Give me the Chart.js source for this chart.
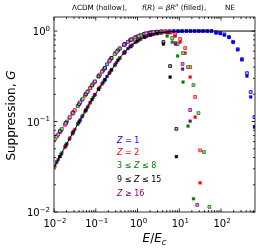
<!DOCTYPE html>
<html>
<head>
<meta charset="utf-8">
<script src="https://cdn.jsdelivr.net/npm/chart.js@4.4.1/dist/chart.umd.min.js"></script>
<style>
  html, body { margin: 0; padding: 0; background: #fff; }
  #c { display: block; }
</style>
</head>
<body>
<canvas id="c" width="260" height="249"></canvas>
<script>
// categories (legend order)
const categories = ['Z = 1', 'Z = 2', '3 ≤ Z ≤ 8', '9 ≤ Z ≤ 15', 'Z ≥ 16'];

// E/Ec sample points per category
const eZ1 = [0.0117, 0.0148, 0.0186, 0.0234, 0.0295, 0.0372, 0.0468, 0.0589, 0.0741, 0.0933,
  0.117, 0.148, 0.186, 0.234, 0.295, 0.372, 0.468, 0.589, 0.741, 0.933,
  1.17, 1.48, 1.86, 2.34, 2.95, 3.72, 4.68, 5.89, 7.41, 9.33,
  11.7, 14.8, 18.6, 23.4, 29.5, 37.2, 46.8, 58.9, 75.9, 95.5,
  120, 155, 195, 251, 316, 417, 513, 631];
const eZ2 = [0.0105, 0.0138, 0.0182, 0.0240, 0.0316, 0.0417, 0.0550, 0.0724, 0.0955, 0.126,
  0.166, 0.219, 0.288, 0.380, 0.501, 0.661, 0.871, 1.15, 1.51, 2.00,
  2.63, 3.47, 4.57, 6.03, 7.94, 10.5, 13.8, 18.2, 24.0, 31.6];
const eZ3 = [0.0115, 0.0155, 0.0204, 0.0275, 0.0372, 0.0490, 0.0661, 0.0871, 0.117, 0.158,
  0.209, 0.282, 0.372, 0.501, 0.676, 0.891, 1.20, 1.58, 2.14, 2.88,
  3.80, 5.13, 6.76, 9.12, 12.3, 16.2, 21.9, 28.8, 38.9, 52.5];
const eZ9 = [0.0138, 0.0195, 0.0282, 0.0398, 0.0575, 0.0813, 0.117, 0.166, 0.240, 0.339,
  0.490, 0.692, 1.00, 1.45, 2.04, 2.95, 4.17, 6.03, 8.51];
const eZ16 = [0.0126, 0.0191, 0.0282, 0.0427, 0.0631, 0.0955, 0.141, 0.214, 0.316, 0.479,
  0.708, 1.07, 1.62, 2.40, 3.63, 5.37, 8.13, 12.0, 18.2, 26.9];

// suppression G, LCDM (hollow) and f(R) (filled)
const gZ1Hollow = [0.069, 0.080, 0.094, 0.110, 0.128, 0.149, 0.174, 0.203, 0.236, 0.273,
  0.316, 0.365, 0.43, 0.50, 0.57, 0.64, 0.70, 0.76, 0.815, 0.86,
  0.90, 0.93, 0.955, 0.97, 0.982, 0.989, 0.994, 0.998, 1, 1,
  1, 1, 1, 1, 1, 1, 1, 1, 0.97, 0.95,
  0.92, 0.86, 0.76, 0.63, 0.49, 0.343, 0.212, 0.112];
const gZ1Filled = [0.036, 0.0435, 0.053, 0.064, 0.078, 0.094, 0.113, 0.135, 0.163, 0.195,
  0.228, 0.268, 0.315, 0.368, 0.43, 0.50, 0.57, 0.64, 0.70, 0.76,
  0.815, 0.86, 0.895, 0.923, 0.945, 0.96, 0.973, 0.982, 0.988, 0.993,
  0.997, 1, 1, 1, 1, 1, 1, 1, 0.95, 0.94,
  0.90, 0.85, 0.75, 0.62, 0.48, 0.318, 0.187, 0.087];
const gZ2Hollow = [0.064, 0.076, 0.092, 0.112, 0.134, 0.161, 0.193, 0.233, 0.277, 0.33,
  0.39, 0.48, 0.56, 0.645, 0.72, 0.79, 0.85, 0.895, 0.935, 0.96,
  0.978, 0.987, 0.99, 0.97, 0.92, 0.816, 0.649, 0.40, 0.187, 0.048];
const gZ2Filled = [0.032, 0.041, 0.052, 0.066, 0.082, 0.103, 0.128, 0.160, 0.198, 0.24,
  0.29, 0.352, 0.42, 0.505, 0.59, 0.67, 0.745, 0.81, 0.862, 0.905,
  0.935, 0.958, 0.97, 0.96, 0.88, 0.756, 0.571, 0.31, 0.112, 0.021];
const gZ3Hollow = [0.068, 0.083, 0.10, 0.122, 0.149, 0.179, 0.218, 0.262, 0.316, 0.38,
  0.46, 0.555, 0.64, 0.72, 0.795, 0.85, 0.90, 0.94, 0.965, 0.98,
  0.988, 0.97, 0.837, 0.718, 0.571, 0.40, 0.253, 0.124, 0.046, 0.0114];
const gZ3Filled = [0.035, 0.045, 0.057, 0.073, 0.094, 0.117, 0.148, 0.185, 0.228, 0.28,
  0.34, 0.415, 0.50, 0.59, 0.675, 0.755, 0.82, 0.87, 0.91, 0.94,
  0.958, 0.88, 0.756, 0.53, 0.273, 0.089, 0.014];
const gZ9Hollow = [0.078, 0.097, 0.125, 0.156, 0.20, 0.251, 0.316, 0.39, 0.505, 0.61,
  0.715, 0.80, 0.87, 0.928, 0.96, 0.975, 0.756, 0.41, 0.083];
const gZ9Filled = [0.041, 0.055, 0.075, 0.099, 0.133, 0.175, 0.228, 0.29, 0.375, 0.475,
  0.58, 0.675, 0.78, 0.855, 0.905, 0.94, 0.718, 0.31, 0.041];
const gZ16Hollow = [0.072, 0.095, 0.124, 0.163, 0.212, 0.277, 0.355, 0.47, 0.59, 0.71,
  0.805, 0.88, 0.942, 0.972, 0.988, 0.98, 0.737, 0.432, 0.134, 0.012];
const gZ16Filled = [0.038, 0.054, 0.075, 0.104, 0.143, 0.198, 0.26, 0.345, 0.45, 0.575,
  0.69, 0.795, 0.873, 0.92, 0.955, 0.96, 0.718, 0.38, 0.101];

// NE curve
const eNE = [0.01, 0.0158, 0.0251, 0.0398, 0.0631, 0.1, 0.158, 0.251, 0.398, 0.631,
  1.0, 1.58, 2.51, 3.98, 6.31, 10, 15.8, 25.1, 650];
const gNE = [0.031, 0.046, 0.068, 0.099, 0.143, 0.205, 0.28, 0.385, 0.52, 0.66,
  0.78, 0.87, 0.93, 0.965, 0.985, 0.994, 0.999, 1.0, 1.0];

// tick exponents
const xTickExps = [-2, -1, 0, 1, 2];
const yTickExps = [-2, -1, 0];

const colors = ['#0000ff', '#ff0000', '#008000', '#000000', '#800080'];
const tints = ['#b0b0ff', '#ffb0b0', '#a8d4a8', '#b0b0b0', '#d4a8d4'];
const FONT = '"DejaVu Sans", sans-serif';

const seriesE = [eZ1, eZ2, eZ3, eZ9, eZ16];
const seriesHollow = [gZ1Hollow, gZ2Hollow, gZ3Hollow, gZ9Hollow, gZ16Hollow];
const seriesFilled = [gZ1Filled, gZ2Filled, gZ3Filled, gZ9Filled, gZ16Filled];

function markers(e, g, i, hollow) {
  return {
    label: categories[i] + (hollow ? ' (hollow)' : ' (filled)'),
    data: g.map((v, k) => ({ x: e[k], y: v })),
    pointStyle: 'rect',
    pointRadius: 2.0,
    backgroundColor: hollow ? tints[i] : colors[i],
    borderColor: colors[i],
    borderWidth: hollow ? 0.8 : 0.3,
    order: 10 - i * 2 - (hollow ? 0 : 1),
    clip: 0
  };
}

const datasets = [];
categories.forEach((c, i) => {
  datasets.push(markers(seriesE[i], seriesHollow[i], i, true));
  datasets.push(markers(seriesE[i], seriesFilled[i], i, false));
});
datasets.push({
  type: 'line',
  label: 'NE',
  data: gNE.map((v, k) => ({ x: eNE[k], y: v })),
  borderColor: '#000',
  borderWidth: 1.0,
  pointRadius: 0,
  fill: false,
  cubicInterpolationMode: 'monotone',
  order: 0
});

// draw text made of plain/italic/super/subscript pieces
function drawRich(ctx, x, y, segs, size, color) {
  let cx = x;
  segs.forEach(s => {
    const fs = (s.sup || s.sub) ? size * 0.7 : size;
    ctx.font = (s.it ? 'italic ' : '') + fs + 'px ' + FONT;
    ctx.fillStyle = color || '#000';
    const dy = s.sup ? -size * 0.42 : (s.sub ? size * 0.25 : 0);
    ctx.fillText(s.t, cx, y + dy);
    cx += ctx.measureText(s.t).width;
  });
  return cx - x;
}
function richWidth(ctx, segs, size) {
  let w = 0;
  segs.forEach(s => {
    const fs = (s.sup || s.sub) ? size * 0.7 : size;
    ctx.font = (s.it ? 'italic ' : '') + fs + 'px ' + FONT;
    w += ctx.measureText(s.t).width;
  });
  return w;
}
function powSegs(exp) {
  return [{ t: '10' }, { t: exp < 0 ? '\u2212' + (-exp) : String(exp), sup: true }];
}
function zSegs(label) {
  const parts = label.split('Z');
  const segs = [];
  parts.forEach((p, k) => {
    if (k > 0) segs.push({ t: 'Z', it: true });
    if (p) segs.push({ t: p });
  });
  return segs;
}

const decor = {
  id: 'decor',
  afterDraw(chart) {
    const { ctx, chartArea: a, scales: { x, y } } = chart;
    ctx.save();
    ctx.strokeStyle = '#000';
    ctx.lineWidth = 0.8;
    ctx.strokeRect(a.left, a.top, a.right - a.left, a.bottom - a.top);

    ctx.beginPath();
    // x ticks, inward on bottom and top
    xTickExps.forEach(p => {
      for (let m = 1; m <= 9; m++) {
        const v = m * Math.pow(10, p);
        if (v > x.max) break;
        const px = x.getPixelForValue(v);
        const len = m === 1 ? 3.5 : 2;
        ctx.moveTo(px, a.bottom); ctx.lineTo(px, a.bottom - len);
        ctx.moveTo(px, a.top); ctx.lineTo(px, a.top + len);
      }
    });
    // y ticks, inward on left and right
    yTickExps.forEach(p => {
      for (let m = 1; m <= 9; m++) {
        const v = m * Math.pow(10, p);
        if (v > y.max) break;
        const py = y.getPixelForValue(v);
        const len = m === 1 ? 3.5 : 2;
        ctx.moveTo(a.left, py); ctx.lineTo(a.left + len, py);
        ctx.moveTo(a.right, py); ctx.lineTo(a.right - len, py);
      }
    });
    ctx.stroke();

    ctx.textBaseline = 'alphabetic';
    ctx.textAlign = 'left';
    xTickExps.forEach(p => {
      const segs = powSegs(p);
      const w = richWidth(ctx, segs, 10);
      drawRich(ctx, x.getPixelForValue(Math.pow(10, p)) - w / 2 + 1, a.bottom + 15, segs, 10);
    });
    yTickExps.forEach(p => {
      const segs = powSegs(p);
      const w = richWidth(ctx, segs, 10);
      drawRich(ctx, a.left - 4 - w, y.getPixelForValue(Math.pow(10, p)) + 4, segs, 10);
    });

    // axis titles
    const xl = [{ t: 'E', it: true }, { t: '/' }, { t: 'E', it: true }, { t: 'c', it: true, sub: true }];
    const xw = richWidth(ctx, xl, 12);
    drawRich(ctx, (a.left + a.right) / 2 - xw / 2, a.bottom + 30, xl, 12);

    const yl = [{ t: 'Suppression, ' }, { t: 'G', it: true }];
    const yw = richWidth(ctx, yl, 12);
    ctx.save();
    ctx.translate(15, (a.top + a.bottom) / 2 + 1);
    ctx.rotate(-Math.PI / 2);
    drawRich(ctx, -yw / 2, 0, yl, 12);
    ctx.restore();

    // title
    const t1 = [{ t: '\u039BCDM (hollow),' }];
    const t2 = [{ t: 'f', it: true }, { t: '(' }, { t: 'R', it: true }, { t: ') = ' }, { t: '\u03B2', it: true },
      { t: 'R', it: true }, { t: 'n', it: true, sup: true }, { t: ' (filled),' }];
    const t3 = [{ t: 'NE' }];
    drawRich(ctx, 72, 10, t1, 7.2);
    drawRich(ctx, 142, 10, t2, 7.2);
    drawRich(ctx, 225, 10, t3, 7.2);

    // legend text
    const ly = [140, 152, 165, 179, 193];
    categories.forEach((c, i) => {
      drawRich(ctx, 117, ly[i] + 3, zSegs(c), 8, colors[i]);
    });
    ctx.restore();
  }
};

new Chart(document.getElementById('c').getContext('2d'), {
  type: 'scatter',
  data: { datasets },
  options: {
    responsive: false,
    animation: false,
    devicePixelRatio: 1,
    events: [],
    layout: { padding: { left: 54, right: 5, top: 17, bottom: 37 } },
    plugins: { legend: { display: false }, tooltip: { enabled: false } },
    scales: {
      x: { type: 'logarithmic', min: 0.01, max: 650, display: false },
      y: { type: 'logarithmic', min: 0.01, max: 1.43, display: false }
    }
  },
  plugins: [decor]
});
</script>
</body>
</html>
